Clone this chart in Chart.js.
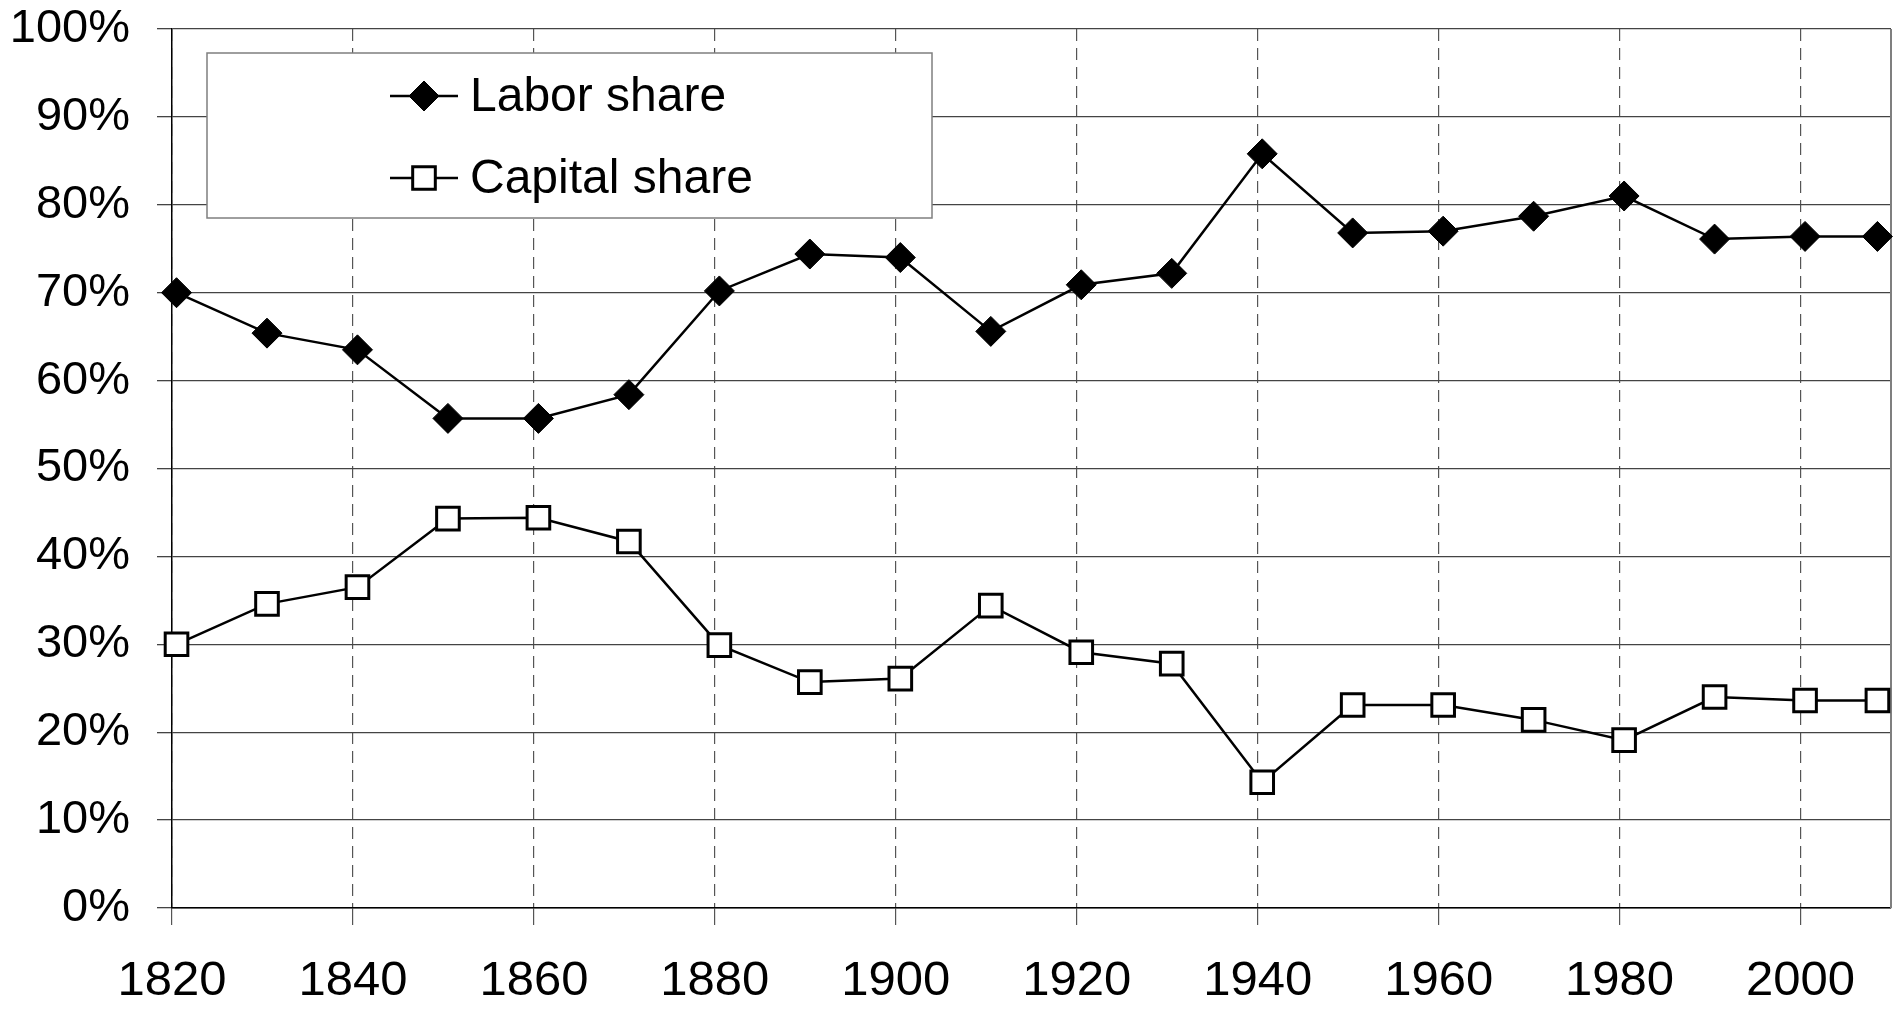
<!DOCTYPE html>
<html>
<head>
<meta charset="utf-8">
<title>Labor and capital shares</title>
<script src="https://cdn.jsdelivr.net/npm/chart.js@4/dist/chart.umd.min.js"></script>
<style>
  html, body { margin: 0; padding: 0; background: #fff; overflow: hidden; }
  #wrap { width: 1895px; height: 1010px; position: relative; }
  canvas { display: block; }
</style>
</head>
<body>
<div id="wrap"><canvas id="chart"></canvas></div>
<script>
// values (points sit half a year right of the grid lines)
const years = [1820.5, 1830.5, 1840.5, 1850.5, 1860.5, 1870.5, 1880.5, 1890.5, 1900.5, 1910.5,
  1920.5, 1930.5, 1940.5, 1950.5, 1960.5, 1970.5, 1980.5, 1990.5, 2000.5, 2008.5];
const laborShare = [70.0, 65.4, 63.5, 55.7, 55.7, 58.4, 70.2, 74.4, 74.0, 65.6,
  70.9, 72.2, 85.8, 76.8, 77.0, 78.7, 81.0, 76.1, 76.4, 76.4];
const capitalShare = [30.0, 34.6, 36.5, 44.3, 44.4, 41.7, 29.9, 25.7, 26.1, 34.4,
  29.1, 27.8, 14.3, 23.1, 23.1, 21.4, 19.1, 24.0, 23.6, 23.6];
const seriesLabels = ['Labor share', 'Capital share'];
const yearRange = [1820, 2010];
const shareRange = [0, 100];

const FONT = '"Liberation Sans", Arial, sans-serif';

const toPoints = (values) => values.map((v, i) => ({ x: years[i], y: v }));

// right edge of the plot frame
const frameEdge = {
  id: 'frameEdge',
  beforeDatasetsDraw(chart) {
    const { ctx, chartArea } = chart;
    ctx.save();
    ctx.strokeStyle = '#7f7f7f';
    ctx.lineWidth = 2;
    ctx.beginPath();
    ctx.moveTo(chartArea.right, chartArea.top);
    ctx.lineTo(chartArea.right, chartArea.bottom);
    ctx.stroke();
    ctx.restore();
  },
};

// boxed legend sitting inside the plot, like the spreadsheet original
const boxLegend = {
  id: 'boxLegend',
  afterDraw(chart) {
    const { ctx } = chart;
    const box = { x: 207, y: 53, w: 725, h: 165 };
    const rowY = [96, 178];

    ctx.save();
    ctx.fillStyle = '#fff';
    ctx.fillRect(box.x, box.y, box.w, box.h);
    ctx.strokeStyle = '#7f7f7f';
    ctx.lineWidth = 1.5;
    ctx.strokeRect(box.x, box.y, box.w, box.h);

    chart.data.datasets.forEach((ds, i) => {
      const y = rowY[i];
      ctx.strokeStyle = ds.borderColor;
      ctx.lineWidth = ds.borderWidth;
      ctx.beginPath();
      ctx.moveTo(390, y);
      ctx.lineTo(458, y);
      ctx.stroke();

      ctx.fillStyle = ds.pointBackgroundColor;
      ctx.strokeStyle = ds.pointBorderColor;
      ctx.lineWidth = ds.pointBorderWidth;
      Chart.helpers.drawPoint(ctx, { pointStyle: ds.pointStyle, radius: ds.pointRadius, borderWidth: ds.pointBorderWidth }, 424, y);

      ctx.fillStyle = '#000';
      ctx.font = `48px ${FONT}`;
      ctx.textBaseline = 'middle';
      ctx.textAlign = 'left';
      ctx.fillText(ds.label, 470, y + 2);
    });
    ctx.restore();
  },
};

new Chart(document.getElementById('chart'), {
  type: 'line',
  data: {
    datasets: [
      {
        label: seriesLabels[0],
        data: toPoints(laborShare),
        borderColor: '#000',
        borderWidth: 2.5,
        pointStyle: 'rectRot',
        pointRadius: 15,
        pointBackgroundColor: '#000',
        pointBorderColor: '#000',
        pointBorderWidth: 1,
        tension: 0,
        clip: false,
      },
      {
        label: seriesLabels[1],
        data: toPoints(capitalShare),
        borderColor: '#000',
        borderWidth: 2.5,
        pointStyle: 'rect',
        pointRadius: 16,
        pointBackgroundColor: '#fff',
        pointBorderColor: '#000',
        pointBorderWidth: 3,
        tension: 0,
        clip: false,
      },
    ],
  },
  options: {
    responsive: true,
    maintainAspectRatio: false,
    animation: false,
    layout: { autoPadding: false, padding: { top: 29, right: 4, left: 8, bottom: 0 } },
    plugins: {
      legend: { display: false },
      tooltip: { enabled: false },
    },
    scales: {
      x: {
        type: 'linear',
        min: yearRange[0],
        max: yearRange[1],
        // pin the axis box so the plot area lands where the original has it
        afterFit: (scale) => {
          scale.height = 102;
          scale.paddingLeft = 0;
          scale.paddingRight = 0;
        },
        ticks: {
          stepSize: 20,
          includeBounds: false,
          padding: 27,
          color: '#000',
          font: { family: FONT, size: 49 },
          callback: (v) => String(v),
        },
        grid: {
          color: '#555',
          lineWidth: 1.2,
          tickLength: 17,
          tickColor: '#555',
          tickBorderDash: [],
        },
        // in v4 border.dash is what dashes the grid lines
        border: { color: '#000', width: 1.5, dash: [12, 7] },
      },
      y: {
        min: shareRange[0],
        max: shareRange[1],
        afterFit: (scale) => {
          scale.width = 164;
          scale.paddingTop = 0;
          scale.paddingBottom = 0;
        },
        ticks: {
          stepSize: 10,
          padding: 27,
          color: '#000',
          font: { family: FONT, size: 47 },
          callback: (v) => `${v}%`,
        },
        grid: {
          color: '#444',
          lineWidth: 1.3,
          tickLength: 15,
          tickColor: '#444',
        },
        border: { color: '#000', width: 1.5 },
      },
    },
  },
  plugins: [frameEdge, boxLegend],
});
</script>
</body>
</html>
